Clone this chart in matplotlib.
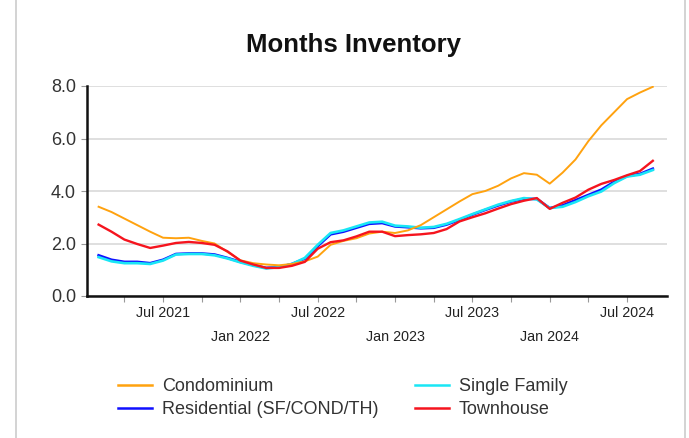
import matplotlib
matplotlib.use("Agg")
import matplotlib.pyplot as plt
from matplotlib.lines import Line2D

plt.rcParams['font.family'] = ['Liberation Sans', 'DejaVu Sans']

# months indexed from Jan 2021 = 0; data Feb 2021 (1) .. Sep 2024 (44)
months = list(range(1, 45))

condo = [3.40, 3.20, 2.95, 2.70, 2.45, 2.22, 2.20, 2.22, 2.10, 2.00,
         1.68, 1.36, 1.25, 1.20, 1.17, 1.22, 1.32, 1.50, 1.95, 2.10,
         2.20, 2.38, 2.45, 2.40, 2.50, 2.70, 3.00, 3.30, 3.60, 3.88,
         4.00, 4.20, 4.48, 4.68, 4.62, 4.28, 4.70, 5.20, 5.90, 6.50,
         7.00, 7.50, 7.75, 7.97]
single_family = [1.48, 1.32, 1.25, 1.25, 1.22, 1.35, 1.58, 1.60, 1.60, 1.55,
                 1.43, 1.28, 1.15, 1.05, 1.10, 1.22, 1.45, 1.95, 2.40, 2.50,
                 2.65, 2.80, 2.83, 2.68, 2.65, 2.60, 2.63, 2.75, 2.93, 3.12,
                 3.30, 3.48, 3.62, 3.73, 3.68, 3.35, 3.40, 3.58, 3.80, 3.98,
                 4.30, 4.55, 4.62, 4.80]
residential = [1.55, 1.38, 1.30, 1.30, 1.25, 1.38, 1.60, 1.62, 1.62, 1.58,
               1.45, 1.30, 1.18, 1.07, 1.10, 1.22, 1.42, 1.90, 2.35, 2.45,
               2.60, 2.75, 2.78, 2.65, 2.62, 2.58, 2.60, 2.72, 2.90, 3.10,
               3.28, 3.45, 3.60, 3.70, 3.70, 3.35, 3.45, 3.65, 3.85, 4.05,
               4.35, 4.57, 4.65, 4.85]
townhouse = [2.72, 2.45, 2.15, 1.98, 1.83, 1.92, 2.02, 2.06, 2.02, 1.95,
             1.70, 1.35, 1.20, 1.07, 1.07, 1.15, 1.30, 1.80, 2.05, 2.12,
             2.27, 2.45, 2.45, 2.28, 2.32, 2.35, 2.40, 2.55, 2.84, 3.00,
             3.15, 3.33, 3.50, 3.63, 3.73, 3.32, 3.55, 3.75, 4.05, 4.27,
             4.42, 4.60, 4.76, 5.15]

tick_pos = list(range(3, 43, 3))
tick_names = {6: 'Jul 2021', 12: 'Jan 2022', 18: 'Jul 2022', 24: 'Jan 2023',
              30: 'Jul 2023', 36: 'Jan 2024', 42: 'Jul 2024'}
y_ticks = [0, 2, 4, 6, 8]

colors = {'Condominium': '#FFA20F', 'Single Family': '#19E6F5',
          'Residential (SF/COND/TH)': '#1010FF', 'Townhouse': '#F5141E'}

W, H = 689, 438
fig = plt.figure(figsize=(W / 100, H / 100), dpi=100)
ax = fig.add_axes([87 / W, 1 - 296 / H, (667 - 87) / W, (296 - 86) / H])

ax.plot(months, residential, color=colors['Residential (SF/COND/TH)'], lw=1.9, zorder=3)
ax.plot(months, single_family, color=colors['Single Family'], lw=1.9, zorder=4)
ax.plot(months, condo, color=colors['Condominium'], lw=1.4, zorder=5)
ax.plot(months, townhouse, color=colors['Townhouse'], lw=1.7, zorder=6)

ax.set_xlim(0.1, 45.1)
ax.set_ylim(0, 8)
ax.set_yticks(y_ticks)
ax.set_yticklabels([f'{v:.1f}' for v in y_ticks])
ax.grid(axis='y', color='#dcdcdc', lw=1.3)
ax.set_axisbelow(True)

labels = []
for p in tick_pos:
    name = tick_names.get(p, '')
    if name.startswith('Jan'):
        name = '\n' + name
    labels.append(name)
ax.set_xticks(tick_pos)
ax.set_xticklabels(labels)
for lab in ax.get_xticklabels():
    lab.set_linespacing(1.95)

for s in ['top', 'right']:
    ax.spines[s].set_visible(False)
for s in ['left', 'bottom']:
    ax.spines[s].set_color('#111111')
    ax.spines[s].set_linewidth(1.8)

ax.tick_params(axis='x', length=4, width=0.8, color='#999999', pad=3,
               labelsize=10.3, labelcolor='#222222')
ax.tick_params(axis='y', length=4.5, width=0.8, color='#999999', pad=3.5,
               labelsize=13, labelcolor='#333333')

fig.text(354 / W, 1 - 52 / H, 'Months Inventory', ha='center', va='baseline',
         fontsize=18.5, fontweight='bold', color='#111111')

# ncol=2 fills column-wise: col1 = Condominium, Residential; col2 = Single Family, Townhouse
leg_order = ['Condominium', 'Residential (SF/COND/TH)', 'Single Family', 'Townhouse']
handles = [Line2D([0], [0], color=colors[n], lw=1.8) for n in leg_order]
fig.legend(handles, leg_order, ncol=2, loc='upper left',
           bbox_to_anchor=(118 / W, 1 - 378 / H), frameon=False,
           fontsize=13, handlelength=1.9, handletextpad=0.55,
           columnspacing=2.0, labelspacing=0.36, borderpad=0,
           borderaxespad=0, labelcolor='#333333')

# page box edges
fig.add_artist(Line2D([15.5 / W, 15.5 / W], [0, 1], color='#cccccc', lw=1.2))
fig.add_artist(Line2D([685 / W, 685 / W], [0, 1], color='#cccccc', lw=1.2))

fig.savefig('out.png', dpi=100)
